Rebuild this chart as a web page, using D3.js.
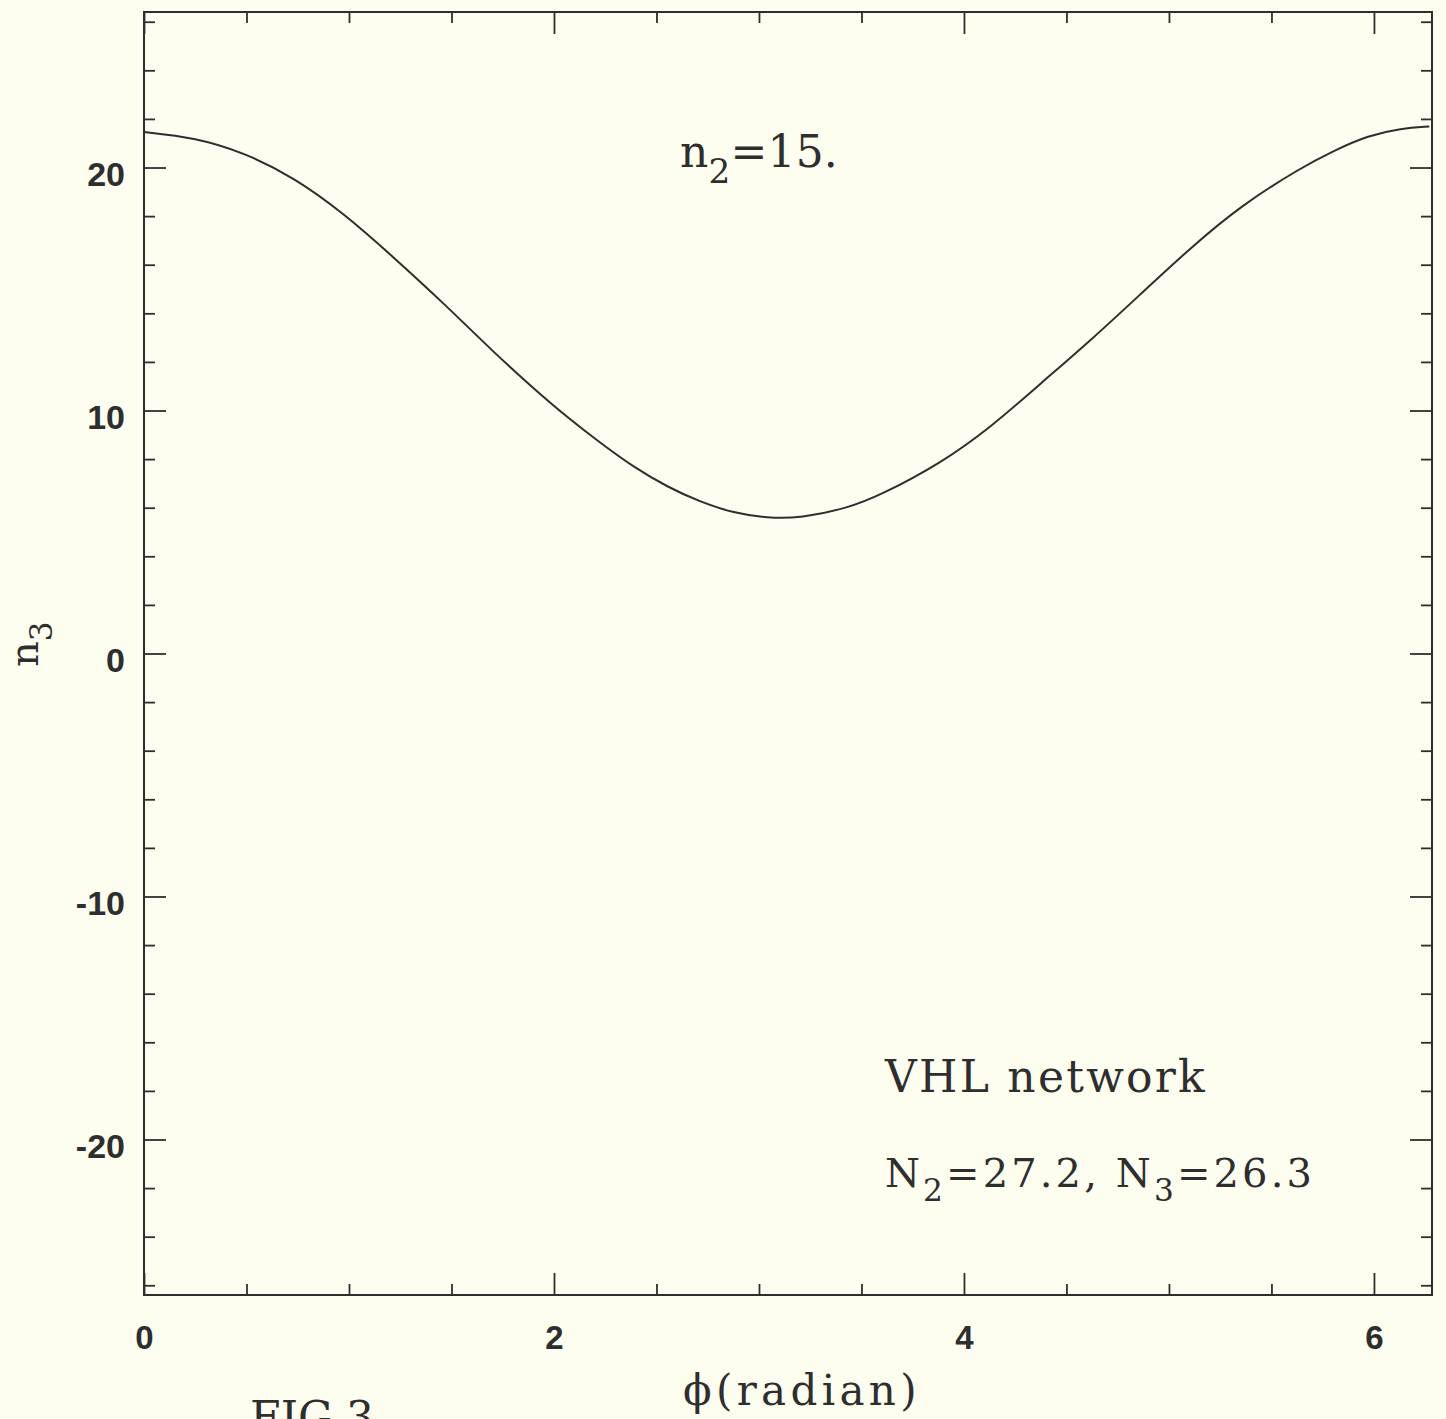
<!DOCTYPE html>
<html>
<head>
<meta charset="utf-8">
<script src="https://cdn.jsdelivr.net/npm/d3@7"></script>
<style>
  html, body { margin: 0; padding: 0; overflow: hidden; background: #fdfdf0; }
  svg { display: block; }
</style>
</head>
<body>
<div id="main"></div>
<script>
// Data: n3 as a function of phi (radian)

let phiValues = [0.00, 0.244, 0.488, 0.732, 0.977, 1.221, 1.465, 1.709, 1.899, 2.065,
  2.227, 2.388, 2.554, 2.715, 2.876, 3.042, 3.203, 3.433, 3.594, 3.887,
  4.131, 4.375, 4.619, 4.863, 5.107, 5.352, 5.645, 5.806, 5.972, 6.133, 6.270];

let n3Values = [21.46, 21.24, 20.62, 19.59, 18.10, 16.28, 14.39, 12.37, 10.92, 9.72,
  8.66, 7.67, 6.85, 6.23, 5.78, 5.57, 5.57, 5.98, 6.52, 7.83,
  9.31, 11.12, 12.89, 14.80, 16.71, 18.44, 20.00, 20.70, 21.32, 21.61, 21.69];

let xMajorTicks = [0, 2, 4, 6];
let xMinorTicks = [0.5, 1, 1.5, 2.5, 3, 3.5, 4.5, 5, 5.5];
let yMajorTicks = [-20, -10, 0, 10, 20];
let yMinorTicks = [-26, -24, -22, -18, -16, -14, -12, -8, -6, -4, -2,
  2, 4, 6, 8, 12, 14, 16, 18, 22, 24, 26];

let points = phiValues.map((p, i) => ({ phi: p, n3: n3Values[i] }));

// Canvas

let width = 1446;
let height = 1419;
let plotLeft = 144, plotRight = 1432, plotTop = 12, plotBottom = 1295;
let ink = "#2e2e2e";
let serif = "'DejaVu Serif', serif";
let sans = "'Liberation Sans', Arial, sans-serif";

let svg = d3.select("#main").append("svg")
  .attr("width", width)
  .attr("height", height);

let x = d3.scaleLinear().domain([0, 2 * Math.PI]).range([plotLeft, plotRight]);
let y = d3.scaleLinear().domain([-26.4, 26.4]).range([plotBottom, plotTop]);

// plain hyphen for negatives, like the original plot
let plain = (d) => String(d);

// Ticks point inward on all four sides

let drawAxis = (axis, tx, ty, cls) => {
  let g = svg.append("g")
    .attr("class", cls)
    .attr("transform", "translate(" + tx + "," + ty + ")")
    .call(axis);
  g.select(".domain").remove();
  g.selectAll("line").attr("stroke", ink).attr("stroke-width", 1.8);
  return g;
};

let xBottom = drawAxis(d3.axisBottom(x).tickValues(xMajorTicks).tickSize(-22).tickPadding(31)
  .tickFormat(plain), 0, plotBottom, "x-major");
drawAxis(d3.axisBottom(x).tickValues(xMinorTicks).tickSize(-11).tickFormat(""), 0, plotBottom, "x-minor");
drawAxis(d3.axisTop(x).tickValues(xMajorTicks).tickSize(-22).tickFormat(""), 0, plotTop, "x-top");
drawAxis(d3.axisTop(x).tickValues(xMinorTicks).tickSize(-11).tickFormat(""), 0, plotTop, "x-top-minor");

let yLeft = drawAxis(d3.axisLeft(y).tickValues(yMajorTicks).tickSize(-22).tickPadding(19)
  .tickFormat(plain), plotLeft, 0, "y-major");
drawAxis(d3.axisLeft(y).tickValues(yMinorTicks).tickSize(-11).tickFormat(""), plotLeft, 0, "y-minor");
drawAxis(d3.axisRight(y).tickValues(yMajorTicks).tickSize(-22).tickFormat(""), plotRight, 0, "y-right");
drawAxis(d3.axisRight(y).tickValues(yMinorTicks).tickSize(-11).tickFormat(""), plotRight, 0, "y-right-minor");

xBottom.selectAll("text")
  .attr("fill", ink)
  .style("font-family", sans)
  .style("font-size", "33px")
  .style("font-weight", "bold");

yLeft.selectAll("text")
  .attr("fill", ink)
  .attr("dy", "0.53em")
  .style("font-family", sans)
  .style("font-size", "34px")
  .style("font-weight", "bold");

// Frame

svg.append("rect")
  .attr("x", plotLeft)
  .attr("y", plotTop)
  .attr("width", plotRight - plotLeft)
  .attr("height", plotBottom - plotTop)
  .attr("fill", "none")
  .attr("stroke", ink)
  .attr("stroke-width", 2);

// The curve (basis spline to smooth out reading noise)

let line = d3.line()
  .x((d) => x(d.phi))
  .y((d) => y(d.n3))
  .curve(d3.curveBasis);

svg.append("path")
  .datum(points)
  .attr("d", line)
  .attr("fill", "none")
  .attr("stroke", ink)
  .attr("stroke-width", 2);

// Text helper: main text with subscripts, stretched to the width seen in the figure

let addText = (parts, px, py, size, target) => {
  let t = svg.append("text")
    .attr("x", px)
    .attr("y", py)
    .attr("fill", ink)
    .style("font-family", serif)
    .style("font-size", size + "px");
  let shift = 0;
  parts.forEach((p) => {
    let sub = p.sub === true;
    let dy = sub ? size * 0.36 : -shift;
    shift = sub ? size * 0.36 : 0;
    t.append("tspan")
      .attr("dy", dy)
      .style("font-size", (sub ? size * 0.78 : size) + "px")
      .text(p.t);
  });
  if (target) {
    let natural = t.node().getComputedTextLength();
    let count = parts.map((p) => p.t).join("").length;
    t.style("letter-spacing", ((target - natural) / count) + "px");
  }
  return t;
};

addText([{ t: "n" }, { t: "2", sub: true }, { t: "=15." }], 680, 167, 44, 158);
addText([{ t: "VHL network" }], 885, 1092, 44, 322);
addText([{ t: "N" }, { t: "2", sub: true }, { t: "=27.2, N" }, { t: "3", sub: true }, { t: "=26.3" }],
  885, 1187, 40, 430);
addText([{ t: "\u03d5(radian)" }], 683, 1405, 42, 238);
addText([{ t: "FIG.3" }], 250, 1433, 44, 124);

// Y axis title, rotated

let yTitle = addText([{ t: "n" }, { t: "3", sub: true }], 0, 0, 40, null);
yTitle.attr("transform", "translate(38,667) rotate(-90)");
</script>
</body>
</html>
